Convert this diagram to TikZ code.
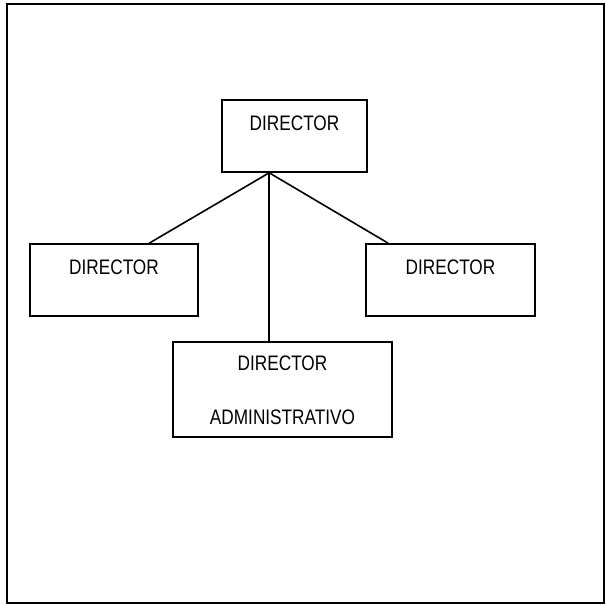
\documentclass[tikz,border=0pt]{standalone}
\usepackage{fontspec}
\setmainfont{Liberation Sans}[FakeStretch=0.82]
\usetikzlibrary{calc}
\begin{document}
\begin{tikzpicture}[x=1pt,y=-1pt,
  box/.style={draw, line width=1.6pt, inner sep=0pt},
  lbl/.style={inner sep=0pt, text height=15pt, text depth=0pt,
    font=\fontsize{21}{25}\selectfont},
  link/.style={line width=1.6pt}]
  \useasboundingbox (0,0) rectangle (606,605);
  % outer frame
  \draw[line width=2pt] (6.5,4) rectangle (604,603);

  % boxes, placed by their centres
  \node[box, minimum width=145pt, minimum height=72pt] (top) at (294.5,136) {};
  \node[box, minimum width=168pt, minimum height=72pt] (left) at (114,280) {};
  \node[box, minimum width=169pt, minimum height=72pt] (right) at (450.5,280) {};
  \node[box, minimum width=219pt, minimum height=95pt] (bottom) at (282.5,389.5) {};

  % texts
  \node[lbl] (ttop) at ($(top.north)+(0,23.5)$) {DIRECTOR};
  \node[lbl] (tleft) at ($(left.north)+(0,24)$) {DIRECTOR};
  \node[lbl] (tright) at ($(right.north)+(0,24)$) {DIRECTOR};
  \node[lbl] (tbot1) at ($(bottom.north)+(0,22)$) {DIRECTOR};
  \node[lbl] (tbot2) at ($(bottom.north)+(0,75.5)$) {ADMINISTRATIVO};

  % junction under the top box and the ends on the lower boxes
  \coordinate (hub) at ($(top.south west)+(48,0)$);
  \coordinate (lend) at ($(left.north west)+(120,0)$);
  \coordinate (rend) at ($(right.north west)+(23,0)$);
  \coordinate (bend) at (bottom.north -| hub);

  \draw[link] (hub) -- (lend);
  \draw[link] (hub) -- (rend);
  \draw[link] (hub) -- (bend);
\end{tikzpicture}
\end{document}
